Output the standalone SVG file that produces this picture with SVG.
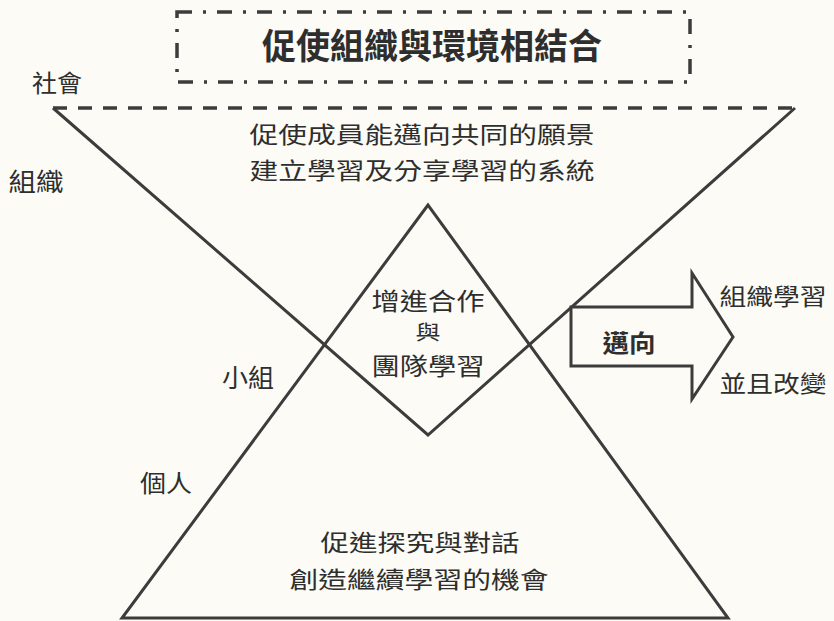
<svg xmlns="http://www.w3.org/2000/svg" width="834" height="621" viewBox="0 0 834 621">
<style>
  .ln { fill: none; stroke: #3c3c3c; stroke-width: 3; stroke-linejoin: miter; }
  .t { font-family: "Noto Sans CJK TC", "Noto Sans CJK SC", sans-serif; fill: #2e2e2e; text-anchor: middle; dominant-baseline: central; }
  .b { font-weight: bold; }
</style>
<rect x="0" y="0" width="834" height="621" fill="#fcfbf5"/>

<g id="title-box">
  <rect x="177" y="12" width="513" height="70" fill="none" stroke="#3c3c3c" stroke-width="3.5" stroke-dasharray="15,11,3,11"/>
  <text class="t b" x="432" y="43" font-size="35" textLength="340" lengthAdjust="spacingAndGlyphs">促使組織與環境相結合</text>
</g>

<g id="inverted-triangle">
  <line x1="53" y1="108" x2="795" y2="108" stroke="#3c3c3c" stroke-width="3.5" stroke-dasharray="14,11"/>
  <polyline class="ln" points="53,108 428,435 795,108"/>
</g>

<g id="upright-triangle">
  <polygon class="ln" points="428,205 122,618 728,618"/>
</g>

<g id="arrow">
  <polygon class="ln" fill="#fcfbf5" style="fill:#fcfbf5" points="571,307 692,307 692,273 733,337 692,399 692,366 571,366"/>
  <text class="t b" x="629" y="341" font-size="24" textLength="53" lengthAdjust="spacingAndGlyphs">邁向</text>
</g>

<g id="labels-levels">
  <text class="t" x="57" y="81" font-size="24" textLength="50" lengthAdjust="spacingAndGlyphs">社會</text>
  <text class="t" x="36" y="180" font-size="25" textLength="55" lengthAdjust="spacingAndGlyphs">組織</text>
  <text class="t" x="248" y="376" font-size="25" textLength="52" lengthAdjust="spacingAndGlyphs">小組</text>
  <text class="t" x="166" y="481" font-size="24" textLength="52" lengthAdjust="spacingAndGlyphs">個人</text>
</g>

<g id="organization-text">
  <text class="t" x="422" y="133" font-size="23" textLength="345" lengthAdjust="spacingAndGlyphs">促使成員能邁向共同的願景</text>
  <text class="t" x="422" y="169" font-size="23" textLength="345" lengthAdjust="spacingAndGlyphs">建立學習及分享學習的系統</text>
</g>

<g id="team-text">
  <text class="t" x="428" y="299" font-size="24" textLength="113" lengthAdjust="spacingAndGlyphs">增進合作</text>
  <text class="t" x="428" y="331" font-size="20" textLength="25" lengthAdjust="spacingAndGlyphs">與</text>
  <text class="t" x="428" y="364" font-size="24" textLength="113" lengthAdjust="spacingAndGlyphs">團隊學習</text>
</g>

<g id="individual-text">
  <text class="t" x="420" y="541" font-size="23" textLength="199" lengthAdjust="spacingAndGlyphs">促進探究與對話</text>
  <text class="t" x="419" y="578" font-size="23" textLength="259" lengthAdjust="spacingAndGlyphs">創造繼續學習的機會</text>
</g>

<g id="outcome-text">
  <text class="t" x="773" y="295" font-size="23" textLength="107" lengthAdjust="spacingAndGlyphs">組織學習</text>
  <text class="t" x="773" y="382" font-size="23" textLength="107" lengthAdjust="spacingAndGlyphs">並且改變</text>
</g>
</svg>
